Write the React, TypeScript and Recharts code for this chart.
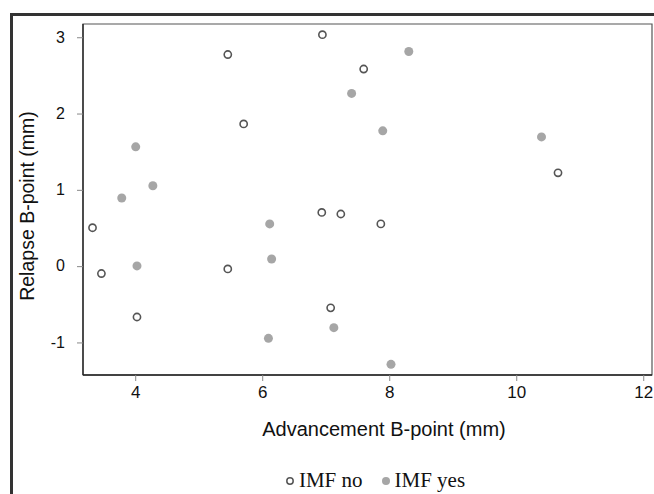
import {
  ScatterChart,
  Scatter,
  XAxis,
  YAxis,
  ReferenceArea,
} from "recharts";

const xTicks = [4, 6, 8, 10, 12];
const yTicks = [-1, 0, 1, 2, 3];

// IMF no (open circles)
const noX = [3.32, 3.46, 4.02, 5.45, 5.45, 5.7, 6.94, 6.93, 7.23, 7.59, 7.86, 7.07, 10.65];
const noY = [0.51, -0.09, -0.66, 2.78, -0.03, 1.87, 3.04, 0.71, 0.69, 2.59, 0.56, -0.54, 1.23];

// IMF yes (filled grey)
const yesX = [3.78, 4.0, 4.27, 4.02, 6.11, 6.14, 6.09, 7.12, 7.4, 7.89, 8.3, 8.02, 10.39];
const yesY = [0.9, 1.57, 1.06, 0.01, 0.56, 0.1, -0.94, -0.8, 2.27, 1.78, 2.82, -1.28, 1.7];

const noData = noX.map((x, i) => ({ x, y: noY[i] }));
const yesData = yesX.map((x, i) => ({ x, y: yesY[i] }));

const X_DOMAIN: [number, number] = [3.17, 12.13];
const Y_DOMAIN: [number, number] = [-1.42, 3.18];

const OpenDot = (props: any) => (
  <circle cx={props.cx} cy={props.cy} r={3.6} fill="#fff" stroke="#555" strokeWidth={1.6} />
);

const FilledDot = (props: any) => (
  <circle cx={props.cx} cy={props.cy} r={4.5} fill="#a6a6a6" />
);

const sans = "'Liberation Sans', Arial, sans-serif";

const XTick = (p: any) => (
  <text x={p.x} y={p.y} dy="0.72em" textAnchor="middle" fontSize={17} fontFamily={sans} fill="#111">
    {p.payload.value}
  </text>
);

const YTick = (p: any) => (
  <text x={p.x} y={p.y} dy="0.3em" textAnchor="end" fontSize={16} fontFamily={sans} fill="#111">
    {p.payload.value}
  </text>
);

export default function App() {
  return (
    <div style={{ position: "absolute", left: 0, top: 0, width: 654, height: 494, overflow: "hidden", background: "#fff" }}>
      <div
        style={{
          position: "absolute",
          left: 10,
          top: 13,
          width: 700,
          height: 520,
          borderLeft: "3px solid #333",
          borderTop: "3px solid #333",
        }}
      />
      <ScatterChart
        width={654}
        height={494}
        margin={{ top: 24, right: 2, bottom: 89, left: 43 }}
        style={{ position: "absolute", left: 0, top: 0 }}
      >
        <ReferenceArea
          x1={X_DOMAIN[0]}
          x2={X_DOMAIN[1]}
          y1={Y_DOMAIN[0]}
          y2={Y_DOMAIN[1]}
          fill="none"
          stroke="#555"
          strokeWidth={1.2}
          ifOverflow="visible"
        />
        <XAxis
          type="number"
          dataKey="x"
          domain={X_DOMAIN}
          ticks={xTicks}
          height={30}
          allowDataOverflow
          tickSize={6}
          tickMargin={5}
          axisLine={{ stroke: "#222", strokeWidth: 1.3 }}
          tickLine={{ stroke: "#888" }}
          tick={<XTick />}
          label={{
            value: "Advancement B-point (mm)",
            content: (p: any) => (
              <text x={384} y={436} textAnchor="middle" fontSize={20} fontFamily={sans} fill="#111">
                {p.value}
              </text>
            ),
          }}
        />
        <YAxis
          type="number"
          dataKey="y"
          domain={Y_DOMAIN}
          ticks={yTicks}
          width={40}
          allowDataOverflow
          tickSize={6}
          tickMargin={12}
          axisLine={{ stroke: "#222", strokeWidth: 1.3 }}
          tickLine={{ stroke: "#888" }}
          tick={<YTick />}
          label={{
            value: "Relapse B-point (mm)",
            content: (p: any) => (
              <text
                x={34}
                y={206}
                textAnchor="middle"
                fontSize={19.5}
                fontFamily={sans}
                fill="#111"
                transform="rotate(-90 34 206)"
              >
                {p.value}
              </text>
            ),
          }}
        />
        <Scatter name="IMF no" data={noData} shape={OpenDot} isAnimationActive={false} />
        <Scatter name="IMF yes" data={yesData} shape={FilledDot} isAnimationActive={false} />
      </ScatterChart>
      <div
        style={{
          position: "absolute",
          left: 0,
          top: 468,
          width: 654,
          display: "flex",
          justifyContent: "center",
          alignItems: "center",
          fontFamily: "'Liberation Serif', 'Times New Roman', serif",
          fontSize: 21,
          color: "#111",
          paddingLeft: 96,
          boxSizing: "border-box",
        }}
      >
        <svg width={10} height={10} style={{ marginRight: 4 }}>
          <circle cx={5} cy={5} r={3.2} fill="#fff" stroke="#555" strokeWidth={1.5} />
        </svg>
        <span style={{ marginRight: 18 }}>IMF no</span>
        <svg width={10} height={10} style={{ marginRight: 4 }}>
          <circle cx={5} cy={5} r={4} fill="#a6a6a6" />
        </svg>
        <span>IMF yes</span>
      </div>
    </div>
  );
}
